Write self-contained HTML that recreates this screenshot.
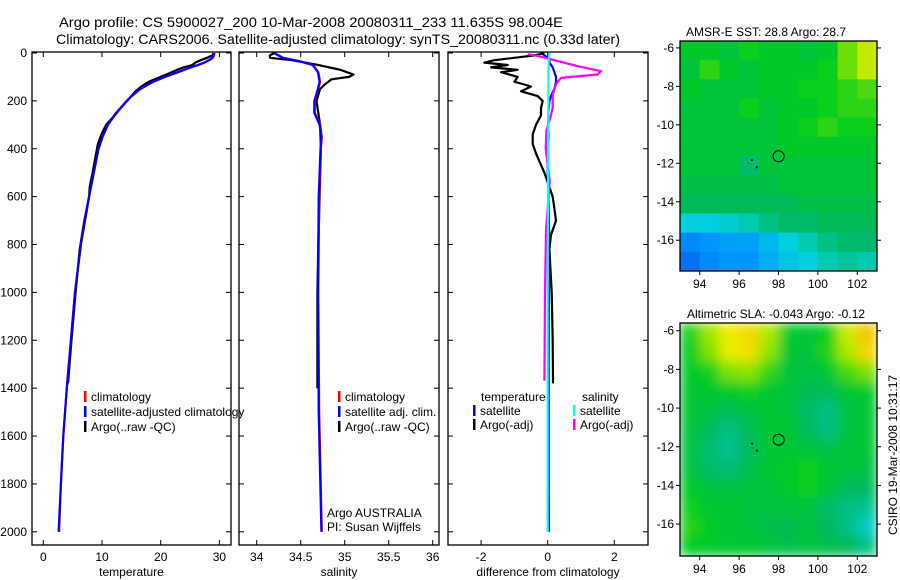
<!DOCTYPE html>
<html><head><meta charset="utf-8"><style>
html,body{margin:0;padding:0;background:#fff}
svg{display:block;font-family:"Liberation Sans",sans-serif}
text{font-size:12px;fill:#000}
</style></head><body>
<svg id="fig" width="900" height="580" viewBox="0 0 900 580" xmlns="http://www.w3.org/2000/svg">
<defs>
<clipPath id="cm1"><rect x="680" y="41" width="197" height="230"/></clipPath>
<clipPath id="cm2"><rect x="680" y="323" width="197" height="233"/></clipPath>
<filter id="bl" x="-5%" y="-5%" width="110%" height="110%"><feGaussianBlur stdDeviation="6" edgeMode="duplicate"/></filter>
</defs>
<text x="59" y="27" textLength="504" lengthAdjust="spacingAndGlyphs" style="font-size:14px">Argo profile: CS 5900027_200 10-Mar-2008 20080311_233 11.635S 98.004E</text>
<text x="56" y="44" textLength="564" lengthAdjust="spacingAndGlyphs" style="font-size:14px">Climatology: CARS2006. Satellite-adjusted climatology: synTS_20080311.nc (0.33d later)</text>
<g id="g1"></g>
<g id="g2"></g>
<g id="g3"></g>
<g id="m1"></g>
<g id="m2"></g>
<text x="766" y="36" text-anchor="middle">AMSR-E SST: 28.8 Argo: 28.7</text>
<text x="776" y="318" text-anchor="middle">Altimetric SLA: -0.043 Argo: -0.12</text>
<text transform="translate(897,455) rotate(-90)" text-anchor="middle">CSIRO 19-Mar-2008 10:31:17</text>
</svg>
<script>
// depth profile data
const tDepth=[0,10,20,30,40,50,60,80,100,120,150,180,200,250,300,350,400,500,600,800,1000,1200,1400,1600,1800,2000];
const tClim=[29.2,29.1,28.9,28.3,27.5,26.4,25.2,23.0,20.8,18.8,16.6,15.1,14.3,12.5,11.0,10.1,9.4,8.6,7.8,6.4,5.4,4.7,4.0,3.4,3.0,2.7];
const tSat=[29.0,29.0,28.8,28.2,27.4,26.3,25.1,22.9,20.7,18.7,16.5,15.0,14.2,12.4,11.0,10.1,9.4,8.6,7.8,6.4,5.4,4.7,4.0,3.4,3.0,2.6];
const aDepth=[0,10,20,30,40,50,60,70,80,100,120,140,160,180,200,230,260,300,340,380,420,500,560,600,650,700,760,820,1000,1200,1380];
const tArgo=[29.0,28.8,27.9,26.8,25.9,25.4,23.9,22.8,21.9,20.0,18.0,16.7,15.7,15.0,14.3,13.2,12.2,10.7,9.9,9.3,9.0,8.4,7.9,7.8,7.4,7.0,6.6,6.2,5.5,4.8,4.2];
const sDepth=[0,10,20,35,50,80,120,150,200,250,300,350,400,600,1000,1500,2000];
const sClim=[34.2,34.25,34.3,34.5,34.64,34.7,34.72,34.7,34.66,34.66,34.72,34.74,34.73,34.71,34.70,34.71,34.74];
const sArgoDepth=[0,10,20,30,50,70,90,100,110,130,150,200,250,300,400,800,1000,1400];
const sArgo=[34.2,34.15,34.15,34.4,34.7,34.95,35.1,35.05,34.85,34.78,34.72,34.68,34.7,34.72,34.73,34.70,34.69,34.69];
const dTArgo=[-0.1,-0.4,-1.0,-1.6,-1.9,-1.2,-1.7,-0.9,-1.4,-0.9,-1.0,-0.5,-0.8,-0.3,-0.15,-0.2,-0.2,-0.35,-0.45,-0.45,-0.35,-0.1,0.05,0.15,0.2,0.25,0.1,0.05,0.12,0.15,0.16];
const dTSat=[-0.2,-0.1,0,0.05,0.05,0.1,0.15,0.2,0.25,0.25,0.2,0.1,0.05,0.02,0.02,0.02,0,0.0,0.02,0.05,0.04,0.03,0.03,0.03,0.03,0.04];
const dSArgo=[-0.6,-0.3,0.2,0.9,1.6,1.5,0.4,0.25,0.15,0.15,0.15,0.1,-0.04,-0.06,0.06,-0.05,-0.08,-0.1];
const dSArgoDepth=[5,12,30,55,76,90,104,130,174,200,229,260,325,400,535,743,1000,1369];
const dSSat=[0.05,0.05,0.04,0.03,0.03,0.02,0.02,0.02,0.02,0.02,0.02,0.01,0.01,0.01,0.0,0.0,0.0];
// map data
const mapLon=[93,103];
const sstLat=[-5.64,-17.6];
const slaLat=[-5.6,-17.65];
const sstGrid=[
[28.7,28.7,28.6,28.8,28.7,28.7,28.6,28.7,29.1,29.4],
[28.6,28.9,28.7,28.6,28.7,28.7,28.7,28.8,29.1,29.4],
[28.7,28.6,28.6,28.6,28.7,28.7,28.8,28.8,28.9,29.0],
[28.6,28.6,28.6,28.8,28.6,28.7,28.7,28.8,28.9,28.9],
[28.6,28.6,28.6,28.6,28.6,28.7,28.8,28.9,28.8,28.8],
[28.6,28.6,28.6,28.6,28.6,28.7,28.7,28.7,28.7,28.7],
[28.6,28.6,28.6,28.3,28.6,28.6,28.6,28.6,28.6,28.6],
[28.5,28.5,28.5,28.5,28.5,28.6,28.6,28.6,28.6,28.6],
[28.4,28.4,28.4,28.4,28.4,28.4,28.5,28.5,28.5,28.5],
[27.8,27.8,27.9,28.0,28.2,28.3,28.3,28.4,28.4,28.4],
[27.2,27.3,27.4,27.4,27.6,27.8,28.0,28.2,28.3,28.3],
[27.0,27.2,27.3,27.3,27.5,27.7,27.8,28.0,28.1,28.0]];
const slaGrid=[
[-0.02,0.06,0.12,0.14,0.07,-0.04,-0.05,-0.02,0.09,0.16],
[-0.03,0.04,0.11,0.13,0.05,-0.05,-0.06,-0.01,0.07,0.14],
[-0.04,-0.02,0.04,0.05,0.0,-0.06,-0.07,-0.05,0.01,0.04],
[-0.05,-0.05,-0.04,-0.02,-0.05,-0.06,-0.09,-0.09,-0.05,-0.04],
[-0.05,-0.07,-0.09,-0.07,-0.05,-0.06,-0.11,-0.13,-0.07,-0.05],
[-0.06,-0.1,-0.13,-0.09,-0.05,-0.05,-0.1,-0.13,-0.07,-0.05],
[-0.07,-0.12,-0.14,-0.1,-0.05,-0.05,-0.06,-0.07,-0.06,-0.05],
[-0.06,-0.11,-0.12,-0.08,-0.05,-0.04,-0.02,-0.05,-0.06,-0.07],
[-0.04,-0.06,-0.07,-0.06,-0.06,-0.04,-0.02,-0.06,-0.1,-0.1],
[-0.02,-0.05,-0.05,-0.06,-0.07,-0.06,-0.06,-0.11,-0.13,-0.14],
[-0.01,-0.04,-0.05,-0.06,-0.08,-0.09,-0.07,-0.1,-0.13,-0.18],
[-0.03,-0.04,-0.05,-0.05,-0.06,-0.08,-0.06,-0.08,-0.1,-0.13]];
const depthTicks=[0,200,400,600,800,1000,1200,1400,1600,1800,2000];
const tTicks=[0,10,20,30];
const sTicks=[34,34.5,35,35.5,36];
const dTicks=[-2,0,2];
const lonTicks=[94,96,98,100,102];
const latTicks=[-6,-8,-10,-12,-14,-16];

const NS='http://www.w3.org/2000/svg';
function mk(p,tag,a){const e=document.createElementNS(NS,tag);for(const k in a)e.setAttribute(k,a[k]);p.appendChild(e);return e;}
const Y0=53, Y1=545;
const yD=d=>Y0+d*0.2394;
function panel(g,x0,x1,xs,ticks,label,name){
  const r=mk(g,'rect',{x:x0,y:Y0-1,width:x1-x0,height:Y1-Y0+1,fill:'none',stroke:'#000','stroke-width':1.3});
  
  
  ticks.forEach(v=>{const x=xs(v);
    mk(g,'line',{x1:x,x2:x,y1:Y1,y2:Y1-5,stroke:'#000'});
    mk(g,'line',{x1:x,x2:x,y1:Y0-1,y2:Y0+4,stroke:'#000'});
    const t=mk(g,'text',{x:x,y:Y1+16,'text-anchor':'middle'});t.textContent=String(v);
    
    
  });
  depthTicks.forEach(d=>{const y=yD(d);
    mk(g,'line',{x1:x0,x2:x0+5,y1:y,y2:y,stroke:'#000'});
    mk(g,'line',{x1:x1,x2:x1-5,y1:y,y2:y,stroke:'#000'});
  });
  const t=mk(g,'text',{x:(x0+x1)/2,y:Y1+31,'text-anchor':'middle'});t.textContent=label;
  
  
}
function line(g,xs,vals,depths,col,name){
  const pts=vals.map((v,i)=>xs(v).toFixed(1)+','+yD(depths[i]).toFixed(1)).join(' ');
  const p=mk(g,'polyline',{points:pts,fill:'none',stroke:col,'stroke-width':2.2,'stroke-linejoin':'round'});
  
  
}
function txt(g,x,y,s,name){const t=mk(g,'text',{x:x,y:y});t.textContent=s;
  
  return t;}
function leg(g,x,y,col,s,name){mk(g,'rect',{x:x,y:y-10,width:2.5,height:11,fill:col});
  txt(g,x+7,y,s,name);}

// panel 1
const g1=document.getElementById('g1');
const xT=v=>43.3+v*5.87;
panel(g1,32,231,xT,tTicks,'temperature','temperature');
depthTicks.forEach(d=>{const t=mk(g1,'text',{x:27,y:yD(d)+4,'text-anchor':'end'});t.textContent=d;
  
  });
line(g1,xT,tArgo,aDepth,'#000','temp-argo-line');
line(g1,xT,tClim,tDepth,'#f00','temp-climatology-line');
line(g1,xT,tSat,tDepth,'#00f','temp-satellite-line');
leg(g1,84,401,'#f00','climatology','legend-climatology');
leg(g1,84,416,'#00f','satellite-adjusted climatology','legend-satellite');
leg(g1,84,431,'#000','Argo(..raw -QC)','legend-argo');
// panel 2
const g2=document.getElementById('g2');
const xS=v=>256.7+(v-34)*88;
panel(g2,239,439,xS,sTicks,'salinity','salinity');
line(g2,xS,sArgo,sArgoDepth,'#000','sal-argo-line');
line(g2,xS,sClim,sDepth,'#f00','sal-climatology-line');
line(g2,xS,sClim.map(v=>v-0.005),sDepth,'#00f','sal-satellite-line');
leg(g2,338,401,'#f00','climatology','legend-climatology');
leg(g2,338,416,'#00f','satellite adj. clim.','legend-satellite');
leg(g2,338,431,'#000','Argo(..raw -QC)','legend-argo');
txt(g2,327,517,'Argo AUSTRALIA','argo-australia-label');
txt(g2,327,531,'PI: Susan Wijffels','pi-label');
// panel 3
const g3=document.getElementById('g3');
const xd=v=>547.7+v*33.3;
panel(g3,448,648,xd,dTicks,'difference from climatology','difference');
line(g3,xd,dTSat,tDepth,'#00f','temp-satellite-diff-line');
line(g3,xd,dTArgo,aDepth,'#000','temp-argo-diff-line');
line(g3,xd,dSArgo,dSArgoDepth,'#f0f','sal-argo-diff-line');
line(g3,xd,dSSat,sDepth,'#0ff','sal-satellite-diff-line');
txt(g3,481,401,'temperature','legend-temperature-header');
leg(g3,473,415,'#00f','satellite','legend-temp-satellite');
leg(g3,473,429,'#000','Argo(-adj)','legend-temp-argo');
txt(g3,582,401,'salinity','legend-salinity-header');
leg(g3,573,415,'#0ff','satellite','legend-sal-satellite');
leg(g3,573,429,'#f0f','Argo(-adj)','legend-sal-argo');

// colormap
const stops=[[0,[0,70,225]],[0.2,[0,150,255]],[0.35,[0,210,220]],[0.5,[0,185,95]],[0.62,[0,205,30]],[0.75,[150,230,0]],[0.85,[240,240,0]],[1,[255,140,0]]];
function cmap(t){t=Math.max(0,Math.min(1,t));for(let i=1;i<stops.length;i++){if(t<=stops[i][0]){const a=stops[i-1],b=stops[i],f=(t-a[0])/(b[0]-a[0]);
  return 'rgb('+a[1].map((c,k)=>Math.round(c+(b[1][k]-c)*f)).join(',')+')';}}return 'rgb(255,140,0)';}
function map(id,grid,latR,y0,y1,norm,clip,blur,name){
  const g=document.getElementById(id);const x0=680,x1=877;
  const xl=lon=>x0+(lon-mapLon[0])/(mapLon[1]-mapLon[0])*(x1-x0);
  const yl=lat=>y0+(lat-latR[0])/(latR[1]-latR[0])*(y1-y0);
  const cg=mk(g,'g',{'clip-path':'url(#'+clip+')'});
  const ig=mk(cg,'g',blur?{filter:'url(#bl)'}:{});
  const nr=grid.length,nc=grid[0].length;
  grid.forEach((row,r)=>row.forEach((v,c)=>{
    const lonA=mapLon[0]+c*(mapLon[1]-mapLon[0])/nc, lonB=mapLon[0]+(c+1)*(mapLon[1]-mapLon[0])/nc;
    const latA=latR[0]+r*(latR[1]-latR[0])/nr, latB=latR[0]+(r+1)*(latR[1]-latR[0])/nr;
    const e=mk(ig,'rect',{x:xl(lonA),y:yl(latA),width:xl(lonB)-xl(lonA)+0.5,height:yl(latB)-yl(latA)+0.5,fill:cmap(norm(v))});
    
    
  }));
  const fr=mk(g,'rect',{x:x0,y:y0,width:x1-x0,height:y1-y0,fill:'none',stroke:'#000','stroke-width':1.3});
  
  
  lonTicks.forEach(l=>{const x=xl(l);mk(g,'line',{x1:x,x2:x,y1:y1,y2:y1+4,stroke:'#000'});
    const t=mk(g,'text',{x:x,y:y1+17,'text-anchor':'middle'});t.textContent=l;
    
    });
  latTicks.forEach(l=>{const y=yl(l);mk(g,'line',{x1:x0,x2:x0-4,y1:y,y2:y,stroke:'#000'});mk(g,'line',{x1:x1,x2:x1+4,y1:y,y2:y,stroke:'#000'});
    const t=mk(g,'text',{x:x0-6,y:y+4,'text-anchor':'end'});t.textContent=l;
    
    });
  const c=mk(g,'circle',{cx:xl(98.004),cy:yl(-11.635),r:5.5,fill:'none',stroke:'#000','stroke-width':1});
  
  
  mk(g,'rect',{x:xl(96.6),y:yl(-11.8),width:2,height:1.5,fill:'#000'});
  mk(g,'rect',{x:xl(96.85),y:yl(-12.15),width:2,height:2,fill:'#000'});
}
map('m1',sstGrid,sstLat,41,271,v=>(v-26.6)/3.5,'cm1',false,'sst');
map('m2',slaGrid,slaLat,323,556,v=>0.6+(v+0.04)*1.6,'cm2',true,'sla');
</script>
</body></html>
